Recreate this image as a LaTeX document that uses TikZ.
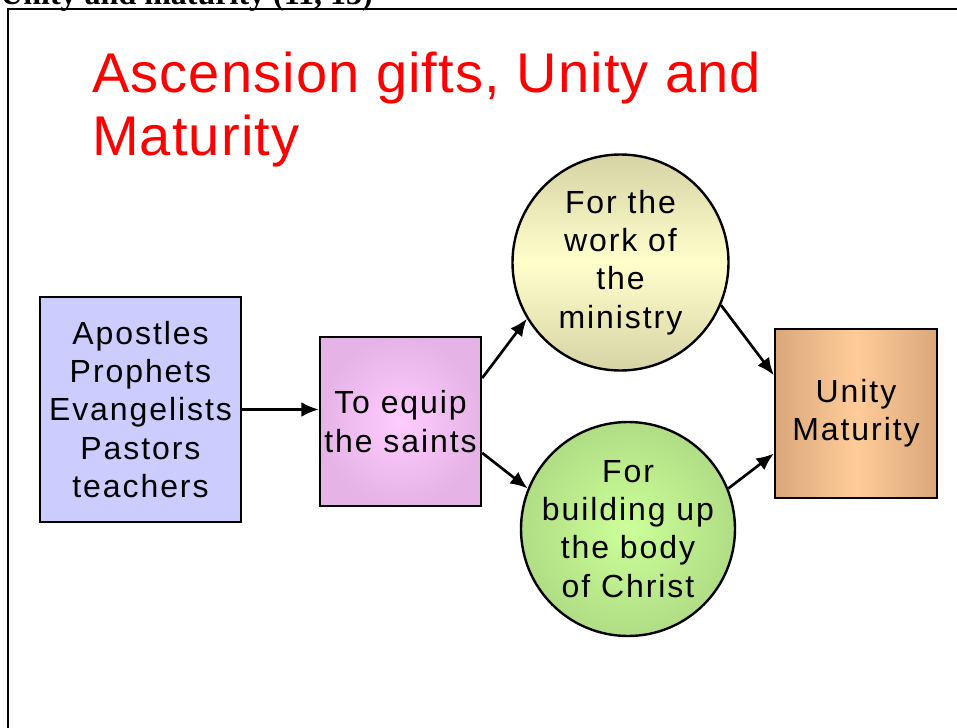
\documentclass[tikz,border=0pt]{standalone}
\usepackage{fontspec}
\setmainfont{Liberation Sans}
\newfontfamily\boxfont[LetterSpace=6]{Liberation Sans}
\newfontfamily\titlefont[LetterSpace=2]{Liberation Sans}
\newfontfamily\headfont{Liberation Serif}
\usepackage{xcolor}
\usepackage{tikz}
\usetikzlibrary{arrows.meta}
\definecolor{titlered}{HTML}{FF0000}
\definecolor{giftblue}{HTML}{CCCCFF}
\definecolor{equippink}{HTML}{FFCCFF}
\definecolor{equipedge}{HTML}{E5B3E5}
\definecolor{workpale}{HTML}{FFFFCC}
\definecolor{workedge}{HTML}{D6D3A4}
\definecolor{bodylight}{HTML}{CCFF99}
\definecolor{bodyedge}{HTML}{B0DD85}
\definecolor{unitylight}{HTML}{FFCC99}
\definecolor{unityedge}{HTML}{D9A77A}

\begin{document}
\begin{tikzpicture}[x=0.75pt,y=-0.75pt,
    box/.style={draw=black,line width=1.8pt,align=center,inner sep=1pt,
      font=\boxfont\fontsize{24}{28.7}\selectfont},
    roundbox/.style={box,circle,inner sep=-12pt},
    link/.style={line width=2pt,-{Latex[length=13pt,width=11pt]}},
    title/.style={anchor=base west,inner sep=0pt,text=titlered,
      font=\titlefont\fontsize{42}{47}\selectfont}]
\useasboundingbox (0,0) rectangle (957,728);
% page frame and clipped header
\draw[line width=1.5pt] (8,760) -- (8,9) -- (990,9);
\node[anchor=base west,inner sep=0pt,font=\headfont\bfseries\fontsize{24}{28}\selectfont]
   (head) at (0,4) {Unity and maturity (11, 13)};
\node[title] (title1) at (92,92) {Ascension gifts, Unity and};
\node[title] (title2) at (92,155) {Maturity};
% boxes and circles
\node[box,fill=giftblue,minimum width=150.75pt,minimum height=168.75pt]
   (gifts) at (140.5,409.5) {Apostles\\Prophets\\Evangelists\\Pastors\\teachers};
\node[box,shading=radial,inner color=equippink,outer color=equipedge,
   minimum width=120.75pt,minimum height=126.75pt]
   (equip) at (400.5,421.5) {To equip\\the saints};
\node[roundbox,top color=workedge,bottom color=workedge,middle color=workpale,
   minimum size=162pt] (ministry) at (620.5,262.5) {For the\\work of\\the\\ministry};
\node[roundbox,shading=radial,inner color=bodylight,outer color=bodyedge,
   minimum size=160.5pt] (building) at (628,529) {For\\building up\\the body\\of Christ};
\node[box,left color=unityedge,right color=unityedge,middle color=unitylight,
   minimum width=121.5pt,minimum height=126.75pt]
   (unity) at (856,413.5) {Unity\\Maturity};
% arrows
\draw[link] (gifts.east) -- (gifts.east -| equip.west);
\draw[link] (equip.28) -- (ministry.211);
\draw[link] (equip.-21) -- (building.158);
\draw[link] (ministry.-23) -- (unity.155);
\draw[link] (building.22) -- (unity.206);
\end{tikzpicture}
\end{document}
